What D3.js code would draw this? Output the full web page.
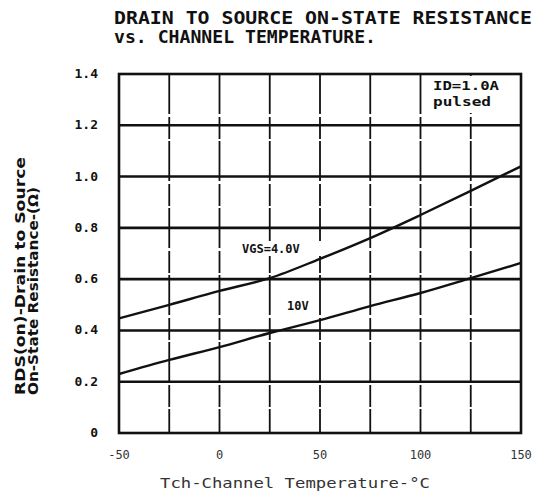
<!DOCTYPE html>
<html>
<head>
<meta charset="utf-8">
<script src="https://cdn.jsdelivr.net/npm/d3@7/dist/d3.min.js"></script>
<style>
html,body{margin:0;padding:0;background:#fff;}
svg{display:block;}
</style>
</head>
<body>
<div id="chart"></div>
<script>
// ---- data ----
const temperatures = [-50, -25, 0, 25, 50, 75, 100, 125, 150];
const rdsVgs4 = [0.447, 0.50, 0.554, 0.604, 0.679, 0.76, 0.85, 0.944, 1.04];
const rdsVgs10 = [0.23, 0.285, 0.335, 0.39, 0.44, 0.495, 0.546, 0.604, 0.663];
const seriesLabels = ["VGS=4.0V", "10V"];
const xTicks = [-50, 0, 50, 100, 150];
const xGrid = [-50, -25, 0, 25, 50, 75, 100, 125, 150];
const yTicks = [0, 0.2, 0.4, 0.6, 0.8, 1.0, 1.2, 1.4];
const titleLines = ["DRAIN TO SOURCE ON-STATE RESISTANCE", "vs. CHANNEL TEMPERATURE."];
const yTitleLines = ["RDS(on)-Drain to Source", "On-State Resistance-(Ω)"];
const xTitle = "Tch-Channel Temperature-°C";
const noteLines = ["ID=1.0A", "pulsed"];

const W = 539, H = 497;
const svg = d3.select("#chart").append("svg").attr("width", W).attr("height", H);
const ink = "#111";

const x = d3.scaleLinear().domain([-50, 150]).range([119, 521]);
const y = d3.scaleLinear().domain([0, 1.4]).range([433, 74]);

// title
const mono = "'DejaVu Sans Mono', 'Liberation Mono', monospace";
svg.selectAll("text.title").data(titleLines).enter().append("text")
  .attr("class", "title")
  .attr("x", 114).attr("y", (d, i) => 24 + i * 19)
  .attr("font-family", mono).attr("font-weight", "bold").attr("font-size", 17)
  .attr("fill", ink)
  .attr("textLength", (d, i) => i === 0 ? 418 : 262)
  .attr("lengthAdjust", "spacingAndGlyphs")
  .text(d => d);

// vertical grid lines
const g = svg.append("g");
g.selectAll("line.vg").data(xGrid.slice(1, -1)).enter().append("line")
  .attr("x1", d => x(d)).attr("x2", d => x(d))
  .attr("y1", y(1.4)).attr("y2", y(0))
  .attr("stroke", ink).attr("stroke-width", 1.8)
  .attr("stroke-dasharray", "40,3,22,2");

// horizontal grid lines
g.selectAll("line.hg").data(yTicks.slice(1, -1)).enter().append("line")
  .attr("x1", x(-50)).attr("x2", x(150))
  .attr("y1", d => y(d)).attr("y2", d => y(d))
  .attr("stroke", ink).attr("stroke-width", 2.6);

// note background (covers grid)
const noteG = svg.append("g");
noteG.append("rect").attr("x", x(100) + 3).attr("y", y(1.4) + 2)
  .attr("width", x(150) - x(100) - 5).attr("height", 37).attr("fill", "#fff");
noteG.selectAll("text").data(noteLines).enter().append("text")
  .attr("x", 433).attr("y", (d, i) => 90 + i * 16)
  .attr("font-family", mono).attr("font-weight", "bold").attr("font-size", 13)
  .attr("fill", ink)
  .attr("textLength", (d, i) => i === 0 ? 66 : 58)
  .attr("lengthAdjust", "spacingAndGlyphs")
  .text(d => d);

// frame
svg.append("rect").attr("x", x(-50)).attr("y", y(1.4))
  .attr("width", x(150) - x(-50)).attr("height", y(0) - y(1.4))
  .attr("fill", "none").attr("stroke", ink).attr("stroke-width", 2.6);

// curves
const line = d3.line().x((d, i) => x(temperatures[i])).y(d => y(d)).curve(d3.curveMonotoneX);
[rdsVgs4, rdsVgs10].forEach(s => {
  svg.append("path").attr("d", line(s)).attr("fill", "none")
    .attr("stroke", ink).attr("stroke-width", 2.4);
});

// series labels
svg.append("rect").attr("x", 241).attr("y", 241).attr("width", 80).attr("height", 15).attr("fill", "#fff");
svg.append("text").attr("x", 242).attr("y", 253)
  .attr("font-family", mono).attr("font-weight", "bold").attr("font-size", 12)
  .attr("fill", ink).text(seriesLabels[0]);
svg.append("rect").attr("x", 286).attr("y", 298).attr("width", 32).attr("height", 14).attr("fill", "#fff");
svg.append("text").attr("x", 287).attr("y", 310)
  .attr("font-family", mono).attr("font-weight", "bold").attr("font-size", 12)
  .attr("fill", ink).text(seriesLabels[1]);

// y tick labels
svg.selectAll("text.yt").data(yTicks).enter().append("text")
  .attr("x", 98).attr("y", d => y(d) + 4)
  .attr("text-anchor", "end")
  .attr("font-family", mono).attr("font-weight", "bold").attr("font-size", 13)
  .attr("fill", ink).text(d => d === 0 ? "0" : d.toFixed(1));

// x tick labels
svg.selectAll("text.xt").data(xTicks).enter().append("text")
  .attr("x", d => x(d)).attr("y", 459)
  .attr("text-anchor", "middle")
  .attr("font-family", mono).attr("font-size", 12)
  .attr("fill", "#333").text(d => d);

// x title
svg.append("text").attr("x", 160).attr("y", 488)
  .attr("font-family", mono).attr("font-size", 14).attr("fill", "#333")
  .attr("textLength", 270).attr("lengthAdjust", "spacingAndGlyphs")
  .text(xTitle);

// y title
svg.selectAll("text.ytitle").data(yTitleLines).enter().append("text")
  .attr("transform", (d, i) => `translate(${25 + i * 13},395) rotate(-90)`)
  .attr("font-family", "'Liberation Sans Narrow', 'DejaVu Sans Condensed', sans-serif")
  .attr("font-weight", "bold").attr("font-size", 14).attr("fill", ink)
  .attr("textLength", (d, i) => i === 0 ? 238 : 208)
  .attr("lengthAdjust", "spacingAndGlyphs")
  .text(d => d);
</script>
</body>
</html>
